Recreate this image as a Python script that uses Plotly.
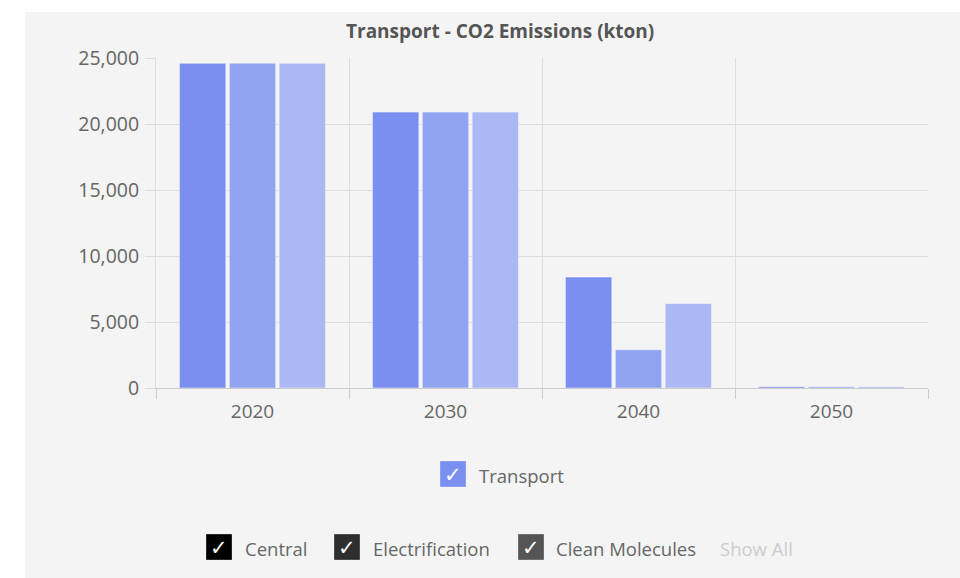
import plotly.graph_objects as go

# Data
years = ["2020", "2030", "2040", "2050"]
central = [24600, 20900, 8400, 100]
electrification = [24600, 20900, 2900, 100]
clean_molecules = [24600, 20900, 6400, 100]

scenario_names = ["Central", "Electrification", "Clean Molecules"]
scenario_values = [central, electrification, clean_molecules]
bar_colors = ["#7b8ff0", "#91a4f1", "#abb8f4"]
box_colors = ["#000000", "#2e2e2e", "#555555"]

y_ticks = [0, 5000, 10000, 15000, 20000, 25000]

W, H = 960, 578
L, R, T, B = 156, 928, 58, 388  # plot area in pixels

FONT = "Open Sans"


def px(x):
    return (x - L) / (R - L)


def py(y):
    return (B - y) / (B - T)


fig = go.Figure()
for name, vals, col in zip(scenario_names, scenario_values, bar_colors):
    fig.add_trace(go.Bar(
        x=years, y=vals, name=name,
        marker=dict(color=col, line=dict(color="rgba(255,255,255,0.45)", width=1)),
        showlegend=False,
    ))

shapes = [
    # panel background
    dict(type="rect", xref="paper", yref="paper", x0=px(25), x1=px(W + 5),
         y0=py(H + 5), y1=py(12), fillcolor="#f4f4f4", line=dict(width=0), layer="below"),
]
annotations = [
    dict(text="<b>Transport - CO2 Emissions (kton)</b>", xref="paper", yref="paper",
         x=px(500), y=py(31), showarrow=False, xanchor="center", yanchor="middle",
         font=dict(family=FONT, size=19, color="#555555")),
]


def checkbox(cx, cy, color, label, label_x, label_color="#666666"):
    shapes.append(dict(type="rect", xref="paper", yref="paper",
                       x0=px(cx - 13), x1=px(cx + 13), y0=py(cy + 13), y1=py(cy - 13),
                       fillcolor=color, line=dict(color="rgba(255,255,255,0.3)", width=1)))
    annotations.append(dict(text="✓", xref="paper", yref="paper", x=px(cx), y=py(cy + 1),
                            showarrow=False, xanchor="center", yanchor="middle",
                            font=dict(family="DejaVu Sans", size=21, color="white")))
    annotations.append(dict(text=label, xref="paper", yref="paper", x=px(label_x), y=py(cy + 1),
                            showarrow=False, xanchor="left", yanchor="middle",
                            font=dict(family=FONT, size=18.5, color=label_color)))


checkbox(453, 474, bar_colors[0], "Transport", 477)
checkbox(219, 547, box_colors[0], "Central", 243)
checkbox(347, 547, box_colors[1], "Electrification", 371)
checkbox(531, 547, box_colors[2], "Clean Molecules", 554)
annotations.append(dict(text="Show All", xref="paper", yref="paper", x=px(718), y=py(548),
                        showarrow=False, xanchor="left", yanchor="middle",
                        font=dict(family=FONT, size=18.5, color="#cccccc")))

fig.update_layout(
    width=W, height=H,
    margin=dict(l=L, r=W - R, t=T, b=H - B, pad=0),
    paper_bgcolor="white",
    plot_bgcolor="#f4f4f4",
    barmode="group",
    bargap=0.225,
    bargroupgap=0.07,
    shapes=shapes,
    annotations=annotations,
    font=dict(family=FONT, color="#666666"),
    xaxis=dict(
        type="category", tickson="boundaries", showgrid=True, gridcolor="#dddddd",
        ticks="outside", ticklen=10, tickcolor="#cccccc", showline=True,
        linecolor="#cccccc", tickfont=dict(size=19, color="#666666"),
        ticklabelstandoff=6,
    ),
    yaxis=dict(
        range=[0, 25000], tickvals=y_ticks, tickformat=",d", showgrid=True,
        gridcolor="#dddddd", zeroline=False, ticks="outside", ticklen=10,
        tickcolor="#dddddd", showline=True, linecolor="#dddddd",
        tickfont=dict(size=19.5, color="#666666"), ticklabelstandoff=2,
    ),
)

fig.write_html("out.html")
